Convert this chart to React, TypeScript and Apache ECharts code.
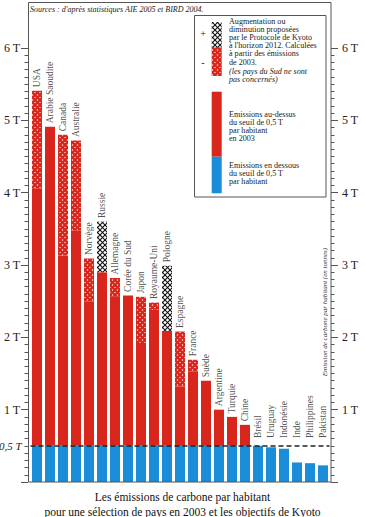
import React, { useEffect, useRef } from 'react';
import * as echarts from 'echarts';

const categories = [
  'USA', 'Arabie Saoudite', 'Canada', 'Australie', 'Norvège', 'Russie', 'Allemagne',
  'Corée du Sud', 'Japon', 'Royaume-Uni', 'Pologne', 'Espagne', 'France', 'Suède',
  'Argentine', 'Turquie', 'Chine', 'Brésil', 'Uruguay', 'Indonésie', 'Inde',
  'Philippines', 'Pakistan',
];
// emissions per inhabitant in 2003 (tonnes of carbon)
const emissions2003 = [
  5.41, 4.91, 4.80, 4.72, 3.09, 2.90, 2.82, 2.58, 2.56, 2.48, 2.09, 2.08, 1.69, 1.40,
  1.00, 0.90, 0.79, 0.50, 0.48, 0.46, 0.27, 0.26, 0.23,
];
// Kyoto 2012 target (null: not concerned)
const kyotoTargets: (number | null)[] = [
  4.06, null, 3.13, 3.48, 2.50, 3.60, 2.56, null, 1.92, 2.38, 2.99, 1.32, 1.53, null,
  null, null, null, null, null, null, null, null, null,
];
const threshold = 0.5;
const yTickLabels = [1, 2, 3, 4, 5, 6];

const RED = '#d9261c';
const BLUE = '#1a8dd8';
const FONT = 'Liberation Serif';
const LABEL_FLOOR = 0.56; // names of small bars start just above the 0,5 T line

function makePattern(kind: 'red' | 'black') {
  const s = 5;
  const c = document.createElement('canvas');
  c.width = s;
  c.height = s;
  const ctx = c.getContext('2d')!;
  ctx.fillStyle = '#ffffff';
  ctx.fillRect(0, 0, s, s);
  ctx.strokeStyle = kind === 'red' ? RED : '#111111';
  ctx.lineWidth = kind === 'red' ? 2.3 : 1.1;
  for (let o = -s; o <= s; o += s) {
    ctx.beginPath();
    ctx.moveTo(o, 0);
    ctx.lineTo(o + s, s);
    ctx.stroke();
    ctx.beginPath();
    ctx.moveTo(o + s, 0);
    ctx.lineTo(o, s);
    ctx.stroke();
  }
  return { image: c, repeat: 'repeat', imageWidth: s, imageHeight: s } as any;
}

export default function App() {
  const ref = useRef<HTMLDivElement>(null);

  useEffect(() => {
    document.body.style.margin = '0';
    if (!ref.current) return;
    const chart = echarts.init(ref.current, null, { renderer: 'svg' });
    const redHatch = makePattern('red');
    const blackHatch = makePattern('black');

    const blueData = emissions2003.map((v) => Math.min(v, threshold));
    const redData = emissions2003.map((v, i) => {
      const t = kyotoTargets[i];
      const top = Math.min(v, t ?? v);
      return top > threshold ? +(top - threshold).toFixed(3) : null;
    });
    const redHatchData = emissions2003.map((v, i) => {
      const t = kyotoTargets[i];
      return t != null && t < v ? +(v - t).toFixed(3) : null;
    });
    const blackHatchData = emissions2003.map((v, i) => {
      const t = kyotoTargets[i];
      return t != null && t > v ? +(t - v).toFixed(3) : null;
    });
    const labelAnchors = emissions2003.map((v, i) =>
      Math.max(v, kyotoTargets[i] ?? v, LABEL_FLOOR)
    );

    const yAxisBase = {
      type: 'value',
      min: 0,
      max: 6,
      interval: 1,
      axisLine: { show: false },
      axisTick: { show: true, length: 7, lineStyle: { color: '#555', width: 1 } },
      minorTick: { show: true, splitNumber: 10, length: 3.5, lineStyle: { color: '#555', width: 1 } },
      splitLine: { show: false },
      axisLabel: {
        formatter: (v: number) => (yTickLabels.includes(v) ? `${v} T` : ''),
        fontFamily: FONT,
        fontSize: 12,
        color: '#222',
      },
    };

    const LH = 8.1;
    const legendText = (x: number, y: number, text: string, italic = false) => ({
      type: 'text',
      x,
      y,
      z: 120,
      style: {
        text,
        fontFamily: FONT,
        fontSize: 8.1,
        fontStyle: italic ? 'italic' : 'normal',
        lineHeight: LH,
        fill: '#222',
        textVerticalAlign: 'top',
      },
    });

    chart.setOption({
      animation: false,
      backgroundColor: '#ffffff',
      grid: { left: 30.5, right: 35.5, top: 48, bottom: 35 },
      xAxis: {
        type: 'category',
        data: categories,
        axisLine: { show: false },
        axisTick: { show: false },
        axisLabel: { show: false },
      },
      yAxis: [
        { ...yAxisBase, position: 'left', offset: 2.5, axisLabel: { ...yAxisBase.axisLabel, margin: 8 } },
        { ...yAxisBase, position: 'right', offset: 1.5, axisLabel: { ...yAxisBase.axisLabel, margin: 11 } },
      ],
      series: [
        { type: 'bar', stack: 'e', barWidth: 10, data: blueData, itemStyle: { color: BLUE } },
        { type: 'bar', stack: 'e', barWidth: 10, data: redData, itemStyle: { color: RED } },
        { type: 'bar', stack: 'e', barWidth: 10, data: redHatchData, itemStyle: { color: redHatch } },
        { type: 'bar', stack: 'e', barWidth: 10, data: blackHatchData, itemStyle: { color: blackHatch } },
        {
          type: 'scatter',
          data: labelAnchors,
          symbolSize: 1,
          itemStyle: { color: 'rgba(0,0,0,0)' },
          z: 5,
          silent: true,
          label: {
            show: true,
            position: 'top',
            distance: 3,
            rotate: 90,
            align: 'left',
            verticalAlign: 'middle',
            formatter: (p: any) => categories[p.dataIndex],
            fontFamily: FONT,
            fontSize: 9.5,
            color: '#222',
          },
          markLine: {
            silent: true,
            symbol: ['none', 'none'],
            lineStyle: { type: [5, 3], color: '#222', width: 1.5 },
            data: [
              {
                yAxis: threshold,
                label: { show: true, position: 'start', distance: 9, formatter: '0,5 T', fontFamily: FONT, fontSize: 11, fontStyle: 'italic', color: '#222' },
              },
              {
                yAxis: threshold,
                lineStyle: { opacity: 0 },
                label: { show: true, position: 'end', distance: 12, formatter: '0,5 T', fontFamily: FONT, fontSize: 11, fontStyle: 'italic', color: '#222' },
              },
            ],
          },
        },
      ],
      graphic: [
        {
          type: 'rect',
          z: 100,
          silent: true,
          shape: { x: 28.5, y: 2.5, width: 302.5, height: 479.5 },
          style: { fill: 'none', stroke: '#555', lineWidth: 1 },
        },
        {
          type: 'text',
          x: 30,
          y: 9,
          z: 110,
          style: {
            text: "Sources : d'après statistiques AIE 2005 et BIRD 2004.",
            fontFamily: FONT,
            fontSize: 8,
            fontStyle: 'italic',
            fill: '#222',
            textVerticalAlign: 'middle',
          },
        },
        {
          type: 'text',
          x: 325,
          y: 312,
          rotation: Math.PI / 2,
          z: 110,
          style: {
            text: 'Emission de carbone par habitant (en tonnes)',
            fontFamily: FONT,
            fontSize: 7,
            fontStyle: 'italic',
            fill: '#333',
            textAlign: 'center',
            textVerticalAlign: 'middle',
          },
        },
        {
          type: 'text',
          x: 182.5,
          y: 489,
          z: 110,
          style: {
            text: 'Les émissions de carbone par habitant\npour une sélection de pays en 2003 et les objectifs de Kyoto',
            fontFamily: FONT,
            fontSize: 11.5,
            lineHeight: 15,
            fill: '#111',
            textAlign: 'center',
            textVerticalAlign: 'top',
          },
        },
        {
          type: 'rect',
          z: 110,
          shape: { x: 194.5, y: 15.5, width: 131.5, height: 181.5 },
          style: { fill: '#ffffff', stroke: '#555', lineWidth: 1 },
        },
        { type: 'rect', z: 115, shape: { x: 211.7, y: 22, width: 10, height: 25 }, style: { fill: blackHatch } },
        { type: 'rect', z: 115, shape: { x: 211.7, y: 47, width: 10, height: 29 }, style: { fill: redHatch } },
        { type: 'rect', z: 115, shape: { x: 211.7, y: 91.7, width: 10, height: 65 }, style: { fill: RED } },
        { type: 'rect', z: 115, shape: { x: 211.7, y: 156.7, width: 10, height: 36.6 }, style: { fill: BLUE } },
        {
          type: 'text', x: 203, y: 33, z: 120,
          style: { text: '+', fontFamily: FONT, fontSize: 10, fill: '#222', textAlign: 'center', textVerticalAlign: 'middle' },
        },
        {
          type: 'text', x: 203, y: 62, z: 120,
          style: { text: '-', fontFamily: FONT, fontSize: 10, fill: '#222', textAlign: 'center', textVerticalAlign: 'middle' },
        },
        legendText(229, 17.5, "Augmentation ou\ndiminution proposées\npar le Protocole de Kyoto\nà l'horizon 2012. Calculées\nà partir des émissions\nde 2003."),
        legendText(229, 67.5, '(les pays du Sud ne sont\npas concernés)', true),
        legendText(229, 110.5, 'Emissions au-dessus\ndu seuil de 0,5 T\npar habitant\nen 2003'),
        legendText(229, 161.5, 'Emissions en dessous\ndu seuil de 0,5 T\npar habitant'),
      ],
    });

    return () => chart.dispose();
  }, []);

  return (
    <div
      ref={ref}
      style={{ position: 'absolute', left: 0, top: 0, width: 365, height: 517, background: '#fff' }}
    />
  );
}
